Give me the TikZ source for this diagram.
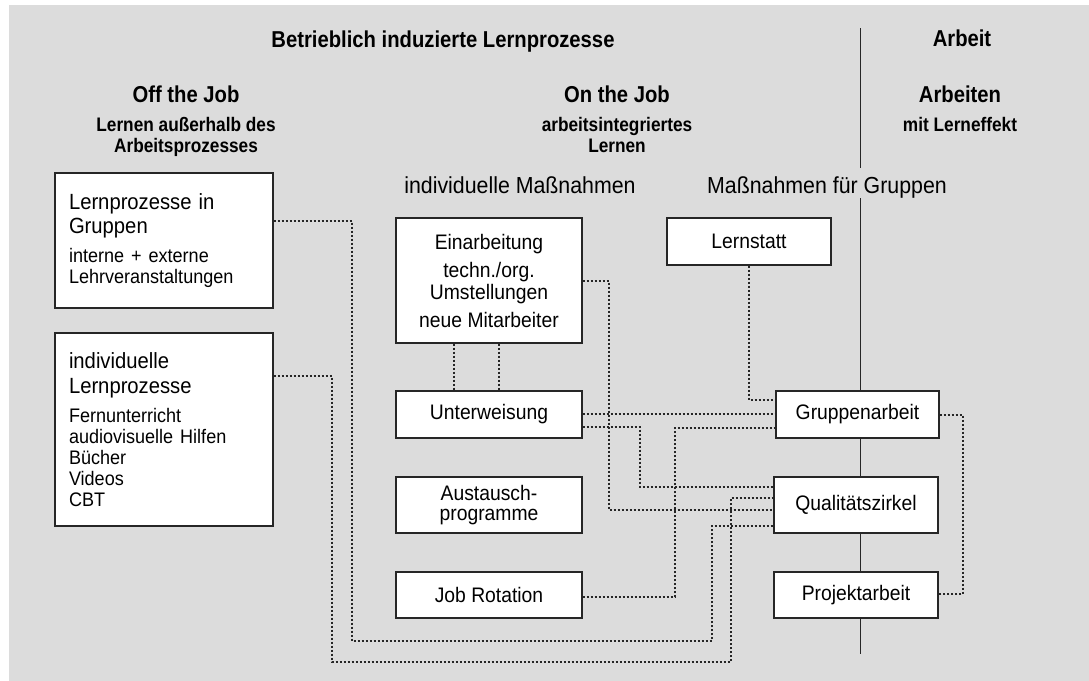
\documentclass[tikz,border=0pt]{standalone}
\usepackage{fontspec}
\setmainfont{Liberation Sans}[UprightFeatures={FakeStretch=0.92}, BoldFeatures={FakeStretch=0.88}]
\usepackage{tikz}
\setlength{\parindent}{0pt}
\definecolor{backgray}{HTML}{DCDCDC}
\newcommand{\headfont}{\fontsize{11.5}{13}\selectfont\bfseries}
\newcommand{\subfont}{\fontsize{9.8}{10.5}\selectfont\bfseries}
\newcommand{\colfont}{\fontsize{11.6}{12}\selectfont}
\newcommand{\bigtxt}{\fontsize{11}{12.25}\selectfont}
\newcommand{\smalltxt}{\fontsize{9.8}{10.5}\selectfont}
\newcommand{\boxtxt}{\fontsize{10.5}{11}\selectfont}

\begin{document}
\begin{tikzpicture}[x=0.5pt, y=-0.5pt]
    \tikzset{
        item box/.style={draw=black!85, fill=white, line width=0.65pt, inner sep=0pt, font=\boxtxt, align=center},
        list box/.style={item box, text width=95pt, inner xsep=7pt, align=left, minimum width=109pt},
        link/.style={draw=black!85, line width=0.6pt, dash pattern=on 1pt off 1pt},
        rule/.style={draw=black!85, line width=0.5pt},
        head/.style={font=\headfont, anchor=base},
        subhead/.style={font=\subfont, anchor=base, align=center}
    }
    \useasboundingbox (0,0) rectangle (1089,681);
    \fill[white] (0,0) rectangle (1089,681);
    \fill[backgray] (9,5) rectangle (1089,681);

    % Headings
    \node (titel) [head] at (443,47) {Betrieblich induzierte Lernprozesse};
    \node (arbeit) [head] at (962,46) {Arbeit};
    \node (offJob) [head] at (186,102) {Off the Job};
    \node (onJob) [head] at (617,102) {On the Job};
    \node (arbeiten) [head] at (960,102) {Arbeiten};
    \node (offJobSub) [subhead] at (186,152) {Lernen außerhalb des\\Arbeitsprozesses};
    \node (onJobSub) [subhead] at (617,152) {arbeitsintegriertes\\Lernen};
    \node (arbeitenSub) [subhead] at (960,131) {mit Lerneffekt};
    \node (indivMass) [anchor=base, font=\colfont] at (520,193) {individuelle Maßnahmen};
    \node (gruppenMass) [anchor=base, font=\colfont] at (827,193) {Maßnahmen für Gruppen};

    % Nodes
    \node (lernGruppen) [list box, minimum height=67.5pt] at (164,240.5)
        {\bigtxt Lernprozesse in\\Gruppen\par\vspace{4pt}\smalltxt interne + externe\\Lehrveranstaltungen\par};
    \node (lernIndiv) [list box, minimum height=96.5pt] at (164,429.5)
        {\bigtxt individuelle\\Lernprozesse\par\vspace{4pt}\smalltxt Fernunterricht\\audiovisuelle Hilfen\\Bücher\\Videos\\CBT\par};
    \node (einarbeitung) [item box, minimum width=93pt, minimum height=62.5pt] at (489,280.5)
        {Einarbeitung\\[3pt]techn./org.\\Umstellungen\\[3pt]neue Mitarbeiter};
    \node (unterweisung) [item box, minimum width=93pt, minimum height=23.5pt] at (489,414.5) {Unterweisung};
    \node (austausch) [item box, minimum width=93pt, minimum height=28pt] at (489,505) {Austausch-\\[-1pt]programme};
    \node (jobRotation) [item box, minimum width=93pt, minimum height=23pt] at (489,595) {Job Rotation};
    \node (lernstatt) [item box, minimum width=82pt, minimum height=23.5pt] at (749,241.5) {Lernstatt};
    \node (gruppenarbeit) [item box, minimum width=81.5pt, minimum height=23.5pt] at (857.5,414.5) {Gruppenarbeit};
    \node (qualitaet) [item box, minimum width=82pt, minimum height=28pt] at (856,505) {Qualitätszirkel};
    \node (projekt) [item box, minimum width=82pt, minimum height=23pt] at (856,595) {Projektarbeit};

    % Dividing rule
    \coordinate (ruleTop) at (860,28);
    \coordinate (ruleGap) at (860,168);
    \coordinate (ruleResume) at (860,198);
    \coordinate (ruleEnd) at (860,654);
    \draw [rule] (ruleTop) -- (ruleGap);
    \draw [rule] (ruleResume) -- (gruppenarbeit.north -| ruleResume);
    \draw [rule] (gruppenarbeit.south -| ruleResume) -- (qualitaet.north -| ruleResume);
    \draw [rule] (qualitaet.south -| ruleResume) -- (projekt.north -| ruleResume);
    \draw [rule] (projekt.south -| ruleResume) -- (ruleEnd);

    % Links
    \draw [link] (lernGruppen.east |- 0,221) -| (352,641) -| (712,526) -- (qualitaet.west |- 0,526);
    \draw [link] (lernIndiv.east |- 0,376) -| (332,662) -| (731,498) -- (qualitaet.west |- 0,498);
    \draw [link] (einarbeitung.south -| 454,0) -- (unterweisung.north -| 454,0);
    \draw [link] (einarbeitung.south -| 499,0) -- (unterweisung.north -| 499,0);
    \draw [link] (einarbeitung.east |- 0,281) -| (609,510) -- (qualitaet.west |- 0,510);
    \draw [link] (lernstatt.south) |- (gruppenarbeit.west |- 0,400);
    \draw [link] (unterweisung.east |- 0,414) -- (gruppenarbeit.west |- 0,414);
    \draw [link] (unterweisung.east |- 0,427) -| (640,487) -- (qualitaet.west |- 0,487);
    \draw [link] (jobRotation.east |- 0,597) -| (675,428) -- (gruppenarbeit.west |- 0,428);
    \draw [link] (gruppenarbeit.east |- 0,415) -| (963,594) -- (projekt.east |- 0,594);

\end{tikzpicture}
\end{document}
